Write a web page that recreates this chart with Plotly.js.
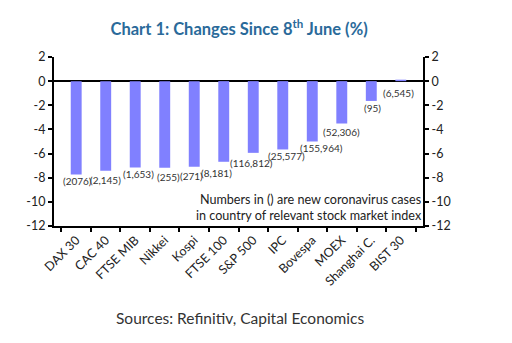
<!DOCTYPE html>
<html><head><meta charset="utf-8">
<script src="https://cdn.plot.ly/plotly-3.0.1.min.js"></script>
<style>html,body{margin:0;padding:0;background:#fff}#c{width:512px;height:343px}</style>
</head><body><div id="c"></div>
<script>
var categories = ["DAX 30","CAC 40","FTSE MIB","Nikkei","Kospi","FTSE 100","S&P 500","IPC","Bovespa","MOEX","Shanghai C.","BIST 30"];
var changes = [-7.73,-7.43,-7.15,-7.18,-7.10,-6.68,-5.94,-5.66,-5.00,-3.51,-1.64,0.12];
var caseLabels = ["(2076)","(2,145)","(1,653)","(255)","(271)","(8,181)","(116,812)","(25,577)","(155,964)","(52,306)","(95)","(6,545)"];
var tickVals = [2,0,-2,-4,-6,-8,-10,-12];

var labelShiftX = [1,0,3,4,-3,-7,-2,4,9,0,1,-2];
var labelShiftY = [-7,-9,-7,-9,-9,-11,-10,-7,-6,-8,-7,-12];

var font = "Lato, 'Open Sans', sans-serif";
var annotations = categories.map(function(c,i){
  var base = changes[i] < 0 ? changes[i] : 0;
  return {x:c, y:base, xref:'x', yref:'y', text:caseLabels[i], showarrow:false,
    xshift:labelShiftX[i], yshift:labelShiftY[i], font:{family:font,size:10,color:'#333'}};
});
annotations.push({xref:'paper', yref:'paper', x:1, y:0.11, xanchor:'right', yanchor:'middle', align:'right',
  text:'Numbers in () are new coronavirus cases<br>in country of relevant stock market index',
  showarrow:false, bgcolor:'#fff', borderpad:0, font:{family:font,size:12.6,color:'#222'}});
annotations.push({xref:'paper', yref:'paper', x:0.505, y:-0.545, xanchor:'center', yanchor:'middle',
  text:'Sources: Refinitiv, Capital Economics', showarrow:false, font:{family:font,size:15.5,color:'#333'}});

var yax = {range:[-12,2], tickvals:tickVals, ticktext:tickVals.map(String), ticks:'outside', ticklen:4, tickwidth:2,
  tickcolor:'#000', showline:true, linewidth:2, linecolor:'#000', showgrid:false, zeroline:true, zerolinewidth:2,
  zerolinecolor:'#000', tickfont:{family:font,size:12.5,color:'#222'}, fixedrange:true};
var yax2 = Object.assign({}, yax, {overlaying:'y', side:'right', zeroline:false});

var data = [
  {type:'bar', x:categories, y:changes, marker:{color:'#8080ff'}, width:0.37, hoverinfo:'skip'},
  {type:'scatter', mode:'markers', x:categories, y:changes, yaxis:'y2', marker:{opacity:0}, hoverinfo:'skip', showlegend:false}
];
var layout = {
  width:512, height:343, showlegend:false,
  margin:{l:54, r:89, t:57, b:117},
  paper_bgcolor:'#fff', plot_bgcolor:'#fff',
  title:{text:'<b>Chart 1: Changes Since 8<sup>th</sup> June (%)</b>', x:0.467, xanchor:'center', y:0.915, yanchor:'middle',
    font:{family:font,size:16.5,color:'#2a6a9a'}},
  xaxis:{type:'category', tickson:'boundaries', ticks:'outside', ticklen:4, tickwidth:2, tickcolor:'#000',
    showline:true, linewidth:2, linecolor:'#000', showgrid:false, tickangle:-45,
    tickfont:{family:font,size:12.5,color:'#222'}, fixedrange:true},
  yaxis:yax, yaxis2:yax2,
  annotations:annotations
};
Plotly.newPlot('c', data, layout, {displayModeBar:false, staticPlot:true});
</script></body></html>
